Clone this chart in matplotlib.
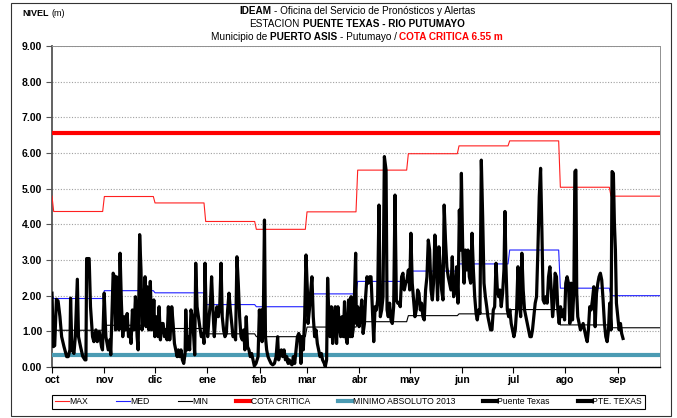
import numpy as np
import matplotlib
matplotlib.use("Agg")
import matplotlib.pyplot as plt
from matplotlib.lines import Line2D
from matplotlib.patches import Rectangle

# ---------------- data ----------------
months = ["oct", "nov", "dic", "ene", "feb", "mar", "abr", "may", "jun", "jul", "ago", "sep"]
month_days = [31, 30, 31, 31, 28, 31, 30, 31, 30, 31, 31, 30]

# monthly statistics of the station (m)
nivel_max = [4.36, 4.78, 4.60, 4.08, 3.86, 4.35, 5.52, 5.98, 6.20, 6.34, 5.04, 4.79]
nivel_med = [1.92, 2.14, 2.08, 1.75, 1.69, 2.05, 2.40, 2.69, 2.89, 3.28, 2.21, 2.00]
nivel_min = [1.03, 1.17, 1.08, 0.93, 0.85, 1.12, 1.27, 1.44, 1.49, 1.61, 1.18, 1.10]

cota_critica = 6.55
minimo_absoluto_2013 = 0.35

# observed level, Puente Texas (day counted from 1 Oct)
obs_day = [
    0.0, 0.8, 1.6, 2.6, 3.6, 4.7, 5.7, 7.1, 8.7, 9.6, 10.6, 11.0, 11.8, 13.0, 13.8, 15.0, 15.7, 16.9,
    18.2, 19.5, 20.1, 20.5, 22.0, 22.8, 24.0, 24.8, 26.0, 26.8, 28.0, 29.3, 29.9, 30.9, 31.9, 33.3,
    34.2, 34.8, 36.2, 37.0, 37.6, 38.2, 39.0, 39.6, 40.3, 41.1, 41.9, 42.9, 43.7, 44.5, 45.3, 46.0,
    46.8, 47.6, 48.6, 49.4, 50.4, 51.0, 51.9, 52.7, 53.3, 54.1, 55.1, 55.7, 56.3, 57.3, 58.2, 59.0,
    59.8, 60.3, 60.9, 61.8, 62.8, 63.4, 64.2, 65.0, 65.8, 66.6, 67.4, 68.1, 68.9, 69.7, 70.5, 70.9,
    71.7, 72.5, 73.3, 74.1, 74.8, 75.6, 76.4, 77.2, 78.0, 78.8, 79.2, 80.0, 80.8, 81.5, 82.3, 83.1,
    83.9, 84.5, 85.1, 85.9, 86.7, 87.5, 88.4, 89.4, 90.0, 90.6, 91.4, 92.2, 93.0, 93.8, 94.5, 95.3,
    96.1, 96.9, 97.7, 98.5, 99.3, 100.1, 100.8, 101.6, 102.4, 103.2, 104.0, 104.8, 105.6, 106.4,
    107.2, 107.9, 108.7, 109.5, 110.3, 111.1, 111.9, 112.7, 113.5, 114.2, 115.0, 115.8, 116.6,
    117.4, 118.2, 119.0, 119.8, 120.8, 122.0, 122.8, 123.4, 124.0, 124.4, 125.2, 125.8, 126.4,
    127.1, 127.9, 128.7, 129.7, 130.7, 131.7, 132.7, 133.6, 134.2, 135.0, 135.8, 136.6, 137.4,
    138.2, 139.0, 139.8, 140.5, 141.3, 142.1, 142.9, 143.7, 144.5, 145.3, 146.1, 146.8, 147.4,
    148.0, 148.8, 149.6, 150.4, 151.2, 151.6, 152.4, 153.1, 153.9, 154.7, 155.5, 156.3, 157.1,
    157.9, 158.7, 159.5, 160.2, 161.2, 161.8, 162.6, 163.2, 163.8, 164.6, 165.4, 166.2, 166.9,
    167.7, 168.5, 169.3, 170.1, 170.9, 171.7, 172.5, 173.2, 174.0, 174.8, 175.6, 176.5, 177.1,
    177.7, 178.3, 178.9, 179.8, 180.2, 181.0, 181.8, 182.6, 183.4, 184.2, 185.0, 185.7, 186.5,
    187.3, 188.1, 188.9, 189.7, 190.5, 191.3, 192.1, 192.8, 193.6, 194.4, 195.2, 196.0, 196.8,
    197.8, 198.4, 199.1, 199.9, 200.7, 201.5, 202.3, 203.1, 203.9, 204.7, 205.5, 206.2, 207.0,
    207.8, 208.6, 209.4, 210.2, 211.0, 211.8, 212.5, 213.3, 214.1, 214.9, 215.7, 216.5, 217.3,
    218.1, 218.8, 219.6, 220.4, 221.2, 222.0, 222.8, 223.6, 224.4, 225.2, 225.9, 226.7, 227.5,
    228.3, 229.1, 229.9, 230.7, 231.5, 232.2, 233.0, 233.8, 234.6, 235.4, 236.2, 237.0, 237.8,
    238.8, 239.6, 240.4, 241.2, 241.8, 242.4, 243.2, 244.0, 244.7, 245.5, 246.3, 247.1, 247.9,
    248.7, 249.5, 250.3, 251.1, 251.8, 252.6, 253.4, 254.2, 255.0, 255.8, 256.6, 257.4, 258.1,
    258.9, 259.7, 260.5, 261.3, 262.1, 262.9, 263.7, 264.5, 265.2, 266.0, 266.8, 267.6, 268.2,
    268.8, 269.6, 270.4, 271.1, 271.9, 272.7, 273.5, 274.3, 275.1, 275.9, 276.7, 277.5, 278.2,
    279.0, 279.8, 280.6, 281.4, 282.2, 283.0, 283.8, 284.5, 285.3, 286.1, 286.9, 287.7, 288.5,
    289.3, 290.1, 290.8, 291.6, 292.4, 293.2, 294.0, 294.8, 295.6, 296.4, 297.2, 297.9, 298.7,
    299.5, 300.3, 301.1, 301.9, 302.7, 303.5, 304.2, 305.0, 305.8, 306.6, 307.4, 308.2, 309.0,
    309.6, 310.2, 310.7, 311.3, 312.1, 312.9, 313.7, 314.5, 315.3, 316.1, 316.9, 317.6, 318.4,
    319.2, 320.0, 320.8, 321.6, 322.4, 323.2, 323.9, 324.7, 325.5, 326.3, 327.1, 327.9, 328.7,
    329.5, 330.2, 331.0, 331.6, 332.4, 333.0, 333.6, 334.2, 335.0, 335.8, 336.6, 337.3, 338.1,
]
obs_level = [
    2.07, 0.57, 0.60, 1.90, 1.85, 1.41, 0.85, 0.57, 0.29, 0.29, 0.48, 1.93, 0.48, 0.38, 0.85, 2.46, 0.85, 0.57,
    0.30, 0.20, 0.20, 3.04, 3.04, 1.69, 0.85, 0.71, 1.04, 0.71, 0.99, 0.57, 0.48, 2.07, 0.85, 0.48,
    0.76, 0.34, 2.63, 2.53, 1.04, 2.53, 2.16, 1.04, 3.19, 1.79, 0.85, 1.41, 1.04, 1.50, 0.85, 1.04,
    0.66, 1.60, 1.04, 1.97, 0.85, 0.48, 3.71, 2.72, 1.04, 1.41, 2.53, 1.13, 2.25, 1.04, 2.40, 1.04,
    1.22, 1.88, 0.85, 1.41, 0.85, 1.69, 0.76, 1.22, 1.22, 0.85, 1.04, 0.76, 1.69, 0.76, 1.22, 1.69,
    1.22, 0.66, 0.48, 0.29, 0.48, 0.29, 0.48, 0.20, 0.10, 0.38, 1.60, 0.48, 0.85, 0.48, 1.60, 1.41,
    0.85, 0.34, 2.91, 1.69, 1.41, 1.13, 0.85, 0.94, 0.66, 2.91, 1.22, 0.85, 1.41, 1.79, 2.53, 1.60,
    0.85, 1.41, 1.69, 1.41, 1.69, 2.91, 1.41, 1.04, 0.85, 0.94, 1.60, 2.07, 1.60, 1.22,
    0.85, 0.94, 0.76, 3.09, 2.35, 1.41, 0.85, 0.76, 1.04, 0.48, 1.41, 0.57, 0.48,
    0.29, 0.38, 0.20, 0.03, 0.10, 0.29, 1.60, 0.85, 1.60, 0.71, 1.69, 4.12, 0.85,
    0.48, 0.29, 0.20, 0.10, 0.06, 0.10, 0.29, 0.85, 0.20, 0.38, 0.48, 0.29, 0.48,
    0.20, 0.29, 0.10, 0.20, 0.10, 0.06, 0.29, 0.10, 0.48, 0.85, 0.94, 0.85, 0.10,
    0.85, 0.48, 1.41, 3.14, 2.16, 1.22, 1.60, 2.07, 2.53, 1.41, 0.85, 1.04, 0.66,
    0.48, 0.29, 0.38, 0.20, 0.10, 0.01, 0.20, 2.49, 1.60, 0.85, 1.69, 0.66, 1.22,
    1.69, 0.66, 1.69, 1.22, 0.85, 1.41, 0.85, 1.83, 0.85, 0.66, 1.88, 0.85, 1.97,
    0.85, 1.04, 1.69, 3.19, 1.22, 1.69, 1.13, 1.41, 1.88, 0.94, 1.22, 1.97, 2.53,
    2.35, 2.53, 2.53, 1.60, 0.71, 1.69, 1.60, 1.88, 4.54, 1.41, 1.60, 1.97, 5.90,
    5.52, 1.60, 1.41, 1.79, 1.32, 1.22, 1.69, 4.82, 1.88, 1.79, 1.79, 1.69, 2.53,
    2.63, 2.16, 2.35, 2.44, 2.72, 2.16, 3.75, 2.35, 1.88, 1.41, 1.60, 2.16, 2.07,
    1.60, 1.79, 1.41, 1.32, 2.16, 2.53, 3.56, 3.28, 2.16, 1.88, 2.35, 3.70, 3.09,
    1.88, 3.37, 2.81, 2.16, 1.88, 4.54, 3.56, 2.81, 2.53, 2.35, 2.16, 3.09, 1.97,
    2.16, 2.81, 1.79, 4.40, 3.28, 5.43, 3.28, 2.35, 3.28, 2.72, 3.28, 2.53, 2.35,
    3.75, 2.72, 1.97, 1.50, 1.32, 1.60, 1.50, 5.80, 4.21, 2.35, 1.97, 1.69, 1.41,
    1.22, 1.04, 1.04, 1.60, 1.69, 2.91, 2.16, 1.97, 2.16, 1.69, 2.07, 2.72, 4.36,
    2.81, 1.60, 1.41, 1.60, 1.22, 1.04, 0.85, 1.04, 1.60, 2.81, 1.79, 1.41, 3.19,
    2.16, 1.60, 1.41, 1.22, 1.04, 0.85, 0.85, 1.04, 1.41, 1.79, 1.97, 3.28, 4.78,
    5.57, 3.75, 1.88, 1.79, 1.97, 1.79, 2.53, 2.81, 2.16, 1.41, 1.79, 2.63, 2.53,
    1.60, 1.22, 1.69, 1.41, 1.60, 1.32, 2.35, 2.53, 2.35, 1.22, 2.35, 1.32, 2.16,
    5.48, 5.52, 2.07, 1.41, 1.22, 1.04, 1.13, 1.22, 1.04, 0.85, 0.71, 1.04, 1.69,
    1.60, 1.88, 2.25, 1.13, 2.07, 2.35, 2.53, 2.63, 2.44, 1.88, 1.22, 0.85, 0.71,
    1.04, 1.79, 1.04, 5.48, 5.43, 4.03, 3.28, 1.79, 1.41, 1.04, 1.22, 0.94, 0.80,
]

# ---------------- helpers ----------------
SANS = ["Liberation Sans", "DejaVu Sans"]


def monthly_steps(values, period=30):
    """Vertices of a month-by-month step line on a 360-day template."""
    xs, ys = [0], [values[-1]]
    for k, v in enumerate(values):
        xs += [period * k + 1, period * (k + 1)]
        ys += [v, v]
    return xs, ys


W, H = 677, 418
fig = plt.figure(figsize=(W / 100, H / 100), dpi=100)
ax = fig.add_axes([52 / W, 1 - 367 / H, (660 - 52) / W, (367 - 46) / H])

# statistics
for vals, col in [(nivel_max, "#ff2020"), (nivel_med, "#2020ff"), (nivel_min, "#000000")]:
    sx, sy = monthly_steps(vals)
    ax.plot(sx, sy, color=col, lw=0.8, zorder=3)

ax.axhline(cota_critica, color="#ff0000", lw=3.0, zorder=4)
ax.axhline(minimo_absoluto_2013, color="#4b9bb3", lw=3.0, zorder=4)

ax.plot(obs_day, obs_level, color="black", lw=2.3, solid_joinstyle="round", zorder=5)

# axes
ax.set_xlim(0, 360)
ax.set_ylim(0, 9)
month_starts = np.concatenate([[0], np.cumsum(month_days)[:-1]])
ax.set_xticks(month_starts)
ax.set_xticklabels(months, fontsize=7.5, fontweight="bold", family=SANS)
yt = np.arange(0, 10)
ax.set_yticks(yt)
ax.set_yticklabels([f"{v:.2f}" for v in yt], fontsize=7.5, fontweight="bold", family=SANS)
ax.tick_params(axis="y", length=4, width=0.8, color="#555555", pad=3)
ax.tick_params(axis="x", length=4, width=0.8, color="black", pad=2)
ax.grid(axis="y", linestyle=(0, (1, 1.5)), color="#a0a0a0", lw=0.8)
ax.set_axisbelow(True)
for s in ["top", "right"]:
    ax.spines[s].set_color("#909090")
    ax.spines[s].set_linewidth(0.7)
ax.spines["left"].set_color("#555555")
ax.spines["left"].set_linewidth(1.3)
ax.spines["bottom"].set_color("black")
ax.spines["bottom"].set_linewidth(1.0)

# legend
handles = [
    Line2D([], [], color="#ff2020", lw=0.8, label="MAX"),
    Line2D([], [], color="#2020ff", lw=0.8, label="MED"),
    Line2D([], [], color="black", lw=0.8, label="MIN"),
    Line2D([], [], color="#ff0000", lw=3.0, label="COTA CRITICA"),
    Line2D([], [], color="#4b9bb3", lw=3.0, label="MINIMO ABSOLUTO 2013"),
    Line2D([], [], color="black", lw=3.0, label="Puente Texas"),
]
pte, = ax.plot([], [], color="black", lw=3.0, label="PTE. TEXAS")
handles.append(pte)
leg = fig.legend(handles=handles, loc="center", ncol=7, mode="expand",
                 bbox_to_anchor=(48 / W, 1 - 411 / H, (649 - 48) / W, 18 / H),
                 frameon=True, fancybox=False, edgecolor="black", framealpha=1,
                 handlelength=1.6, handletextpad=0.1, columnspacing=0.5,
                 borderpad=0.3, prop={"family": SANS, "size": 6.2})
leg.get_frame().set_linewidth(0.8)

# outer frame
fig.patches.append(Rectangle((11 / W, 2 / H), 660 / W, 413 / H, transform=fig.transFigure,
                             fill=False, edgecolor="#333333", lw=0.8))

# title lines made of mixed-style pieces
fig.canvas.draw()
renderer = fig.canvas.get_renderer()


def rich_line(y_px, parts, size, x_center_px=None, x_left_px=None):
    texts = []
    for s, weight, color in parts:
        t = fig.text(0, 1 - y_px / H, s, fontsize=size, fontweight=weight, color=color,
                     family=SANS, ha="left", va="center")
        texts.append(t)
    widths = [t.get_window_extent(renderer).width for t in texts]
    probe = fig.text(0, 0, "a a", fontsize=size, family=SANS)
    probe2 = fig.text(0, 0, "aa", fontsize=size, family=SANS)
    space = probe.get_window_extent(renderer).width - probe2.get_window_extent(renderer).width
    probe.remove()
    probe2.remove()
    total = sum(widths) + space * (len(parts) - 1)
    x = x_left_px if x_left_px is not None else x_center_px - total / 2
    for t, w in zip(texts, widths):
        t.set_x(x / W)
        x += w + space


xc = 357
rich_line(11.5, [("IDEAM", "bold", "black"), ("- Oficina del Servicio de Pronósticos y Alertas", "normal", "black")], 7.2, xc)
rich_line(24, [("ESTACION", "normal", "black"), ("PUENTE TEXAS - RIO PUTUMAYO", "bold", "black")], 7.2, xc)
rich_line(36.5, [("Municipio de", "normal", "black"), ("PUERTO ASIS", "bold", "black"),
                 ("- Putumayo /", "normal", "black"), ("COTA CRITICA 6.55 m", "bold", "#ff0000")], 7.2, xc)
rich_line(13, [("NIVEL", "bold", "black"), ("(m)", "normal", "black")], 6.5, x_left_px=22)

fig.savefig("out.png", dpi=100)
